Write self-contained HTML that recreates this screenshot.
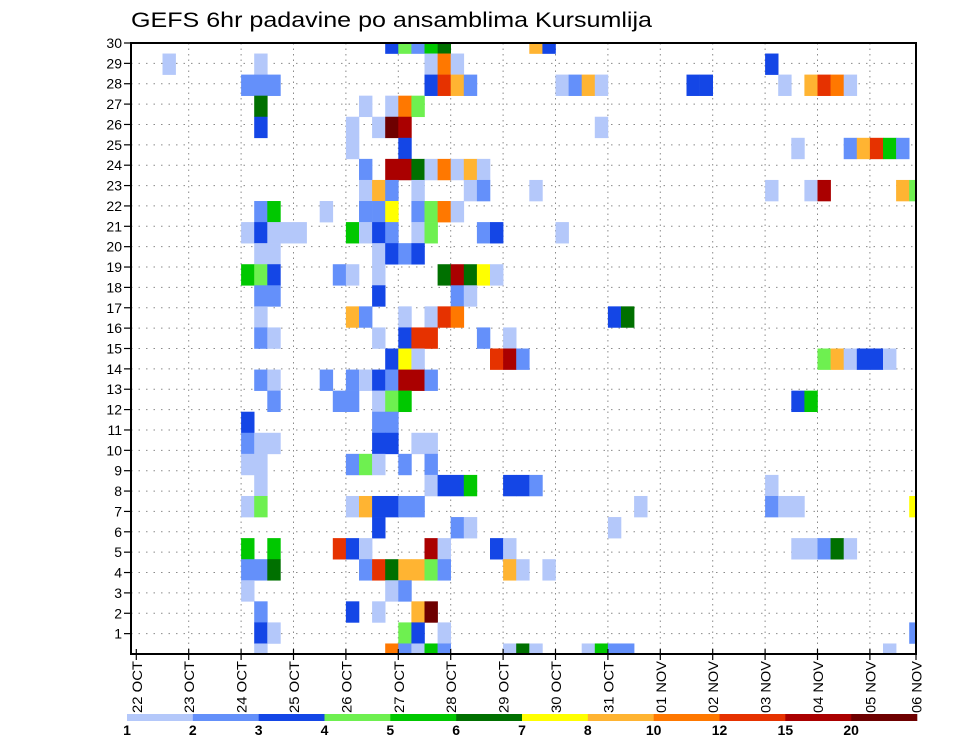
<!DOCTYPE html>
<html><head><meta charset="utf-8"><style>
html,body{margin:0;padding:0;background:#fff;}
svg{display:block;font-family:"Liberation Sans","DejaVu Sans",sans-serif;}
</style></head><body>
<svg id="chart" width="960" height="742" viewBox="0 0 960 742" xmlns="http://www.w3.org/2000/svg">
<defs><clipPath id="plotClip"><rect x="131" y="43" width="785" height="611"/></clipPath></defs>
<rect width="960" height="742" fill="#fff"/>
<text x="131" y="27" font-size="21" textLength="521" lengthAdjust="spacingAndGlyphs" fill="#000">GEFS 6hr padavine po ansamblima Kursumlija</text>
<g id="grid"></g>
<g id="cells" clip-path="url(#plotClip)"></g>
<rect x="131" y="43" width="785" height="611" fill="none" stroke="#000" stroke-width="2"/>
<g id="yaxis"></g>
<g id="xaxis"></g>
<g id="legend"></g>
</svg>
<script>
// ---- data ----
const dayLabels = ["22 OCT","23 OCT","24 OCT","25 OCT","26 OCT","27 OCT","28 OCT","29 OCT","30 OCT","31 OCT","01 NOV","02 NOV","03 NOV","04 NOV","05 NOV","06 NOV"];
const yTickLabels = [1,2,3,4,5,6,7,8,9,10,11,12,13,14,15,16,17,18,19,20,21,22,23,24,25,26,27,28,29,30];
const levelLabels = [1,2,3,4,5,6,7,8,10,12,15,20];
const levelColors = ["#b4c8fa","#6490fa","#1446e6","#6ef050","#00c800","#007000","#ffff00","#ffb432","#ff7800","#e63200","#aa0000","#6e0000"];
// member index (0 = bottom row), 6-hour step index, precipitation value (mm)
const cellMember = [
29,29,29,29,29,29,29,
28,28,28,28,28,28,
27,27,27,27,27,27,27,27,27,27,27,27,27,27,27,27,27,27,
26,26,26,26,26,
25,25,25,25,25,25,
24,24,24,24,24,24,24,24,
23,23,23,23,23,23,23,23,23,
22,22,22,22,22,22,22,22,22,22,22,22,
21,21,21,21,21,21,21,21,21,21,
20,20,20,20,20,20,20,20,20,20,20,20,20,20,
19,19,19,19,19,19,
18,18,18,18,18,18,18,18,18,18,18,
17,17,17,17,17,
16,16,16,16,16,16,16,16,16,
15,15,15,15,15,15,15,15,
14,14,14,14,14,14,14,14,14,14,14,14,
13,13,13,13,13,13,13,13,13,13,
12,12,12,12,12,12,12,12,
11,11,11,
10,10,10,10,10,10,10,
9,9,9,9,9,9,9,
8,8,8,8,8,8,8,8,8,
7,7,7,7,7,7,7,7,7,7,7,7,7,
6,6,6,6,
5,5,5,5,5,5,5,5,5,5,5,5,5,5,
4,4,4,4,4,4,4,4,4,4,4,4,4,
3,3,3,
2,2,2,2,2,
1,1,1,1,1,1,
0,0,0,0,0,0,0,0,0,0,0,0,0,0];
const cellStep = [
19,20,21,22,23,30,31,
2,9,22,23,24,48,
8,9,10,22,23,24,25,32,33,34,35,42,43,49,51,52,53,54,
9,17,19,20,21,
9,16,18,19,20,35,
16,20,50,54,55,56,57,58,
17,19,20,21,22,23,24,25,26,
17,18,19,21,25,26,30,48,51,52,58,59,
9,10,14,17,18,19,21,22,23,24,
8,9,10,11,12,16,17,18,19,21,22,26,27,32,
9,10,18,19,20,21,
8,9,10,15,16,18,23,24,25,26,27,
9,10,18,24,25,
9,16,17,20,22,23,24,36,37,
9,10,18,20,21,22,26,28,
19,20,21,27,28,29,52,53,54,55,56,57,
9,10,14,16,17,18,19,20,21,22,
10,15,16,18,19,20,50,51,
8,18,19,
8,9,10,18,19,21,22,
8,9,16,17,18,20,22,
9,22,23,24,25,28,29,30,48,
8,9,16,17,18,19,20,21,38,48,49,50,59,
18,24,25,36,
8,10,15,16,17,22,23,27,28,50,51,52,53,54,
8,9,10,17,18,19,20,21,22,23,28,29,31,
8,19,20,
9,16,18,21,22,
9,10,20,21,23,59,
9,19,20,21,22,23,28,29,30,34,35,36,37,57];
const cellValue = [
3.5,4.5,2.5,5.5,6.5,9,3.5,
1.5,1.5,1.5,11,1.5,3.5,
2.5,2.5,2.5,3.5,13.5,9,2.5,1.5,2.5,9,1.5,3.5,3.5,1.5,9,13.5,11,1.5,
6.5,1.5,1.5,11,4.5,
3.5,1.5,1.5,25,17,1.5,
1.5,3.5,1.5,2.5,9,13.5,5.5,2.5,
2.5,17,17,6.5,1.5,11,1.5,9,1.5,
1.5,9,2.5,1.5,1.5,2.5,1.5,1.5,1.5,17,9,4.5,
2.5,5.5,1.5,2.5,2.5,7.5,2.5,4.5,11,1.5,
1.5,3.5,1.5,1.5,1.5,5.5,1.5,3.5,2.5,1.5,4.5,2.5,3.5,1.5,
1.5,1.5,1.5,3.5,2.5,3.5,
5.5,4.5,3.5,2.5,1.5,1.5,6.5,17,6.5,7.5,1.5,
2.5,2.5,3.5,2.5,1.5,
1.5,9,2.5,1.5,1.5,13.5,11,3.5,6.5,
2.5,1.5,1.5,3.5,13.5,13.5,2.5,1.5,
3.5,7.5,1.5,13.5,17,2.5,4.5,9,1.5,3.5,3.5,1.5,
2.5,1.5,2.5,2.5,1.5,3.5,2.5,17,17,2.5,
2.5,2.5,2.5,1.5,4.5,5.5,3.5,5.5,
3.5,2.5,2.5,
2.5,1.5,1.5,3.5,3.5,1.5,1.5,
1.5,1.5,2.5,4.5,1.5,2.5,2.5,
1.5,1.5,3.5,3.5,5.5,3.5,3.5,2.5,1.5,
1.5,4.5,1.5,9,3.5,3.5,2.5,2.5,1.5,2.5,1.5,1.5,7.5,
3.5,2.5,1.5,1.5,
5.5,5.5,13.5,3.5,1.5,17,1.5,3.5,1.5,1.5,1.5,2.5,6.5,1.5,
2.5,2.5,6.5,2.5,13.5,6.5,9,9,4.5,2.5,9,1.5,1.5,
1.5,1.5,2.5,
2.5,3.5,1.5,9,25,
3.5,1.5,4.5,3.5,1.5,2.5,
1.5,11,2.5,1.5,5.5,2.5,1.5,6.5,1.5,1.5,5.5,2.5,2.5,1.5];

// ---- scales ----
const NS = "http://www.w3.org/2000/svg";
const plotL = 131, plotR = 916, plotT = 43, plotB = 654;
const x0 = 136.3, stepW = 13.1;
const memberH = (plotB - plotT) / 29;
const labelH = (plotB - plotT) / 30;
function xStep(s){ return x0 + s * stepW; }
function xDay(d){ return x0 + d * stepW * 4; }
function yMember(m){ return plotB - m * memberH; }
function yLabel(v){ return plotB - v * labelH; }
function colorFor(v){
  let idx = 0;
  for (let i = 0; i < levelLabels.length; i++){ if (v >= levelLabels[i]) idx = i; }
  return levelColors[idx];
}
function mk(tag, attrs){
  const e = document.createElementNS(NS, tag);
  for (const k in attrs) e.setAttribute(k, attrs[k]);
  return e;
}

// ---- grid ----
const grid = document.getElementById('grid');
for (let d = 1; d < dayLabels.length; d++){
  const x = xDay(d);
  if (x >= plotR) continue;
  const l = mk('line', {x1:x, y1:plotT, x2:x, y2:plotB, stroke:'#8a8a8a', 'stroke-width':1, 'stroke-dasharray':'1.5 4'});
  
  
  grid.appendChild(l);
}
for (let i = 0; i < yTickLabels.length - 1; i++){
  const y = yLabel(yTickLabels[i]);
  const l = mk('line', {x1:plotL, y1:y, x2:plotR, y2:y, stroke:'#8a8a8a', 'stroke-width':1, 'stroke-dasharray':'1.5 6'});
  
  
  grid.appendChild(l);
}

// ---- cells ----
const cellsG = document.getElementById('cells');
for (let i = 0; i < cellValue.length; i++){
  const x = xStep(cellStep[i]);
  const y = yMember(cellMember[i]) - memberH / 2;
  const r = mk('rect', {x:x.toFixed(2), y:y.toFixed(2), width:(stepW+0.3).toFixed(2), height:(memberH+0.3).toFixed(2), fill:colorFor(cellValue[i])});
  
  
  cellsG.appendChild(r);
}

// ---- y axis ----
const yax = document.getElementById('yaxis');
for (let i = 0; i < yTickLabels.length; i++){
  const y = yLabel(yTickLabels[i]);
  const tk = mk('line', {x1:124, y1:y, x2:plotL, y2:y, stroke:'#000', 'stroke-width':1.2});
  
  
  yax.appendChild(tk);
  const t = mk('text', {x:122, y:y + 5, 'font-size':14, 'text-anchor':'end', fill:'#000'});
  t.textContent = String(yTickLabels[i]);
  
  
  yax.appendChild(t);
}

// ---- x axis ----
const xax = document.getElementById('xaxis');
for (let d = 0; d < dayLabels.length; d++){
  const x = Math.min(xDay(d), plotR);
  const tk = mk('line', {x1:x, y1:plotB - 5, x2:x, y2:plotB + 6, stroke:'#000', 'stroke-width':1.2});
  
  
  xax.appendChild(tk);
  const t = mk('text', {x:0, y:0, 'font-size':14, fill:'#000', textLength:52, lengthAdjust:'spacingAndGlyphs', transform:'translate(' + (x + 5.5) + ',713) rotate(-90)'});
  t.textContent = dayLabels[d];
  
  
  xax.appendChild(t);
}

// ---- colorbar ----
const leg = document.getElementById('legend');
const cbL = 127, cbR = 917, cbY = 714, cbH = 7;
const segW = (cbR - cbL) / levelColors.length;
for (let i = 0; i < levelColors.length; i++){
  const r = mk('rect', {x:(cbL + i*segW).toFixed(2), y:cbY, width:(segW+0.3).toFixed(2), height:cbH, fill:levelColors[i]});
  
  
  leg.appendChild(r);
  const t = mk('text', {x:(cbL + i*segW).toFixed(2), y:735, 'font-size':14, 'font-weight':'bold', 'text-anchor':'middle', fill:'#000'});
  t.textContent = String(levelLabels[i]);
  
  
  leg.appendChild(t);
}
</script>
</body></html>
